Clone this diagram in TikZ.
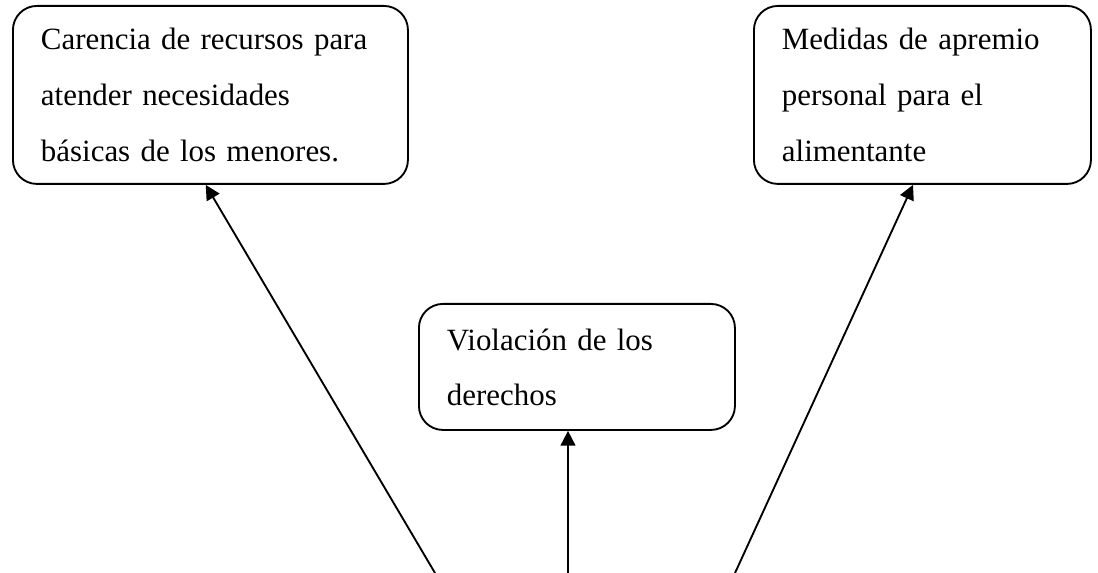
\documentclass[tikz,border=0pt]{standalone}
\usepackage{fontspec}
\setmainfont{Liberation Serif}
\usetikzlibrary{arrows.meta,positioning}
\tikzset{
    line color/.style={black},
    cause box/.style={draw,line color,line width=1.4pt,rounded corners=18pt,
        anchor=north west,align=left,inner xsep=21pt,inner ysep=0pt,
        font=\fontsize{23.2pt}{42pt}\selectfont},
    arr/.style={-{Triangle[length=11pt,width=11pt]},line width=1.4pt,line color},
}

\begin{document}
\begin{tikzpicture}[x=0.75pt,y=-0.75pt]
        \useasboundingbox (0,0) rectangle (1098,573);
        \node[cause box,text width=254.25pt,minimum height=133.5pt] (carencia) at (12,5)
            {Carencia de recursos para\\atender necesidades\\básicas de los menores.};
        \node[cause box,text width=210.75pt,minimum height=133.5pt] (apremio) at (753,5)
            {Medidas de apremio\\personal para el\\alimentante};
        \node[cause box,text width=195pt,minimum height=94.5pt,
            font=\fontsize{23.2pt}{41.3pt}\selectfont] (violacion) at (418,303)
            {Violación de los\\derechos};
        % lower ends leave the picture
        \coordinate (pie izq) at (435,573);
        \coordinate (pie centro) at (568,573);
        \coordinate (pie der) at (735,573);
        \draw[arr] (pie izq) -- (carencia.-93);
        \draw[arr] (pie centro) -- (pie centro |- violacion.south);
        \draw[arr] (pie der) -- (apremio.-96);
    \end{tikzpicture}
\end{document}
